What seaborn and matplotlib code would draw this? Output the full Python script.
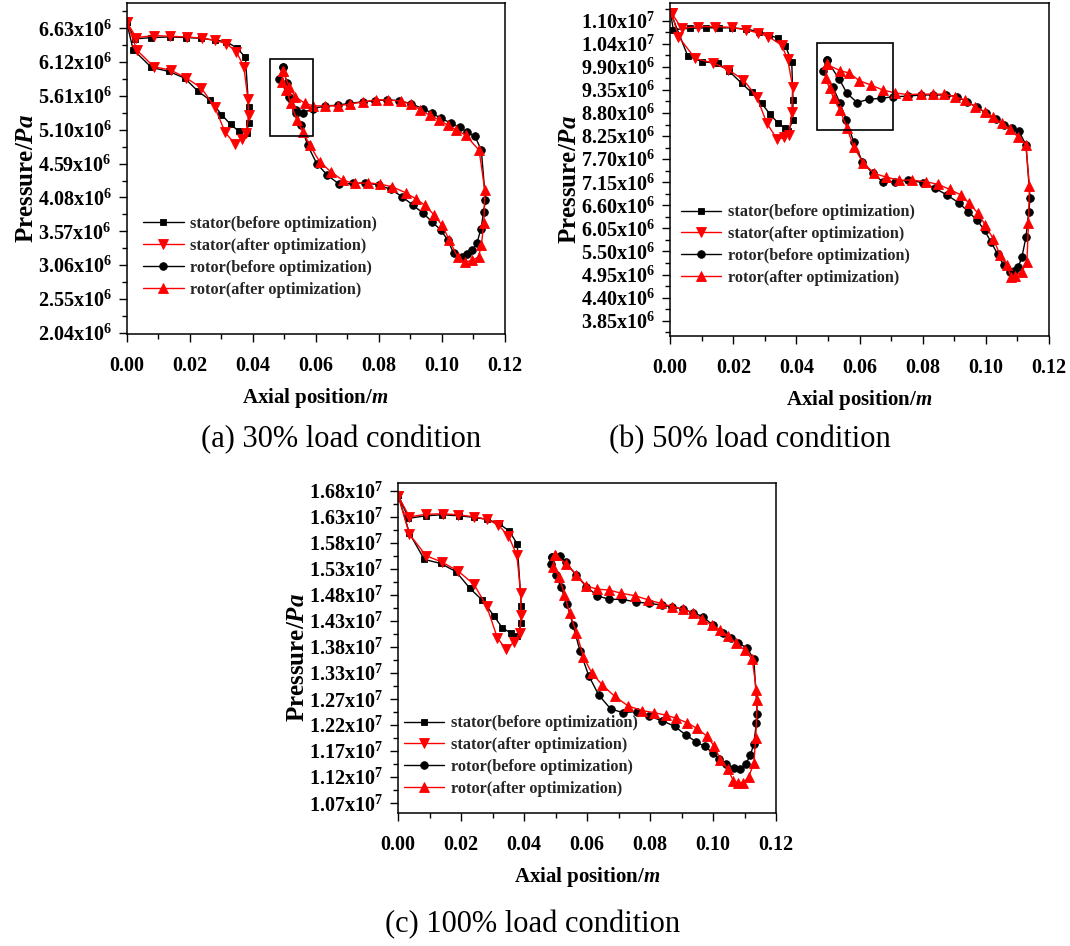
import matplotlib
matplotlib.use("Agg")
import matplotlib.pyplot as plt
import matplotlib.patches as patches
from matplotlib.ticker import FixedLocator, MultipleLocator
import seaborn as sns
import pandas as pd
import numpy as np

W, H = 1070, 946

# ---------------- data (pressure in 1e6 Pa, axial position in m) ----------------
# (a) 30% load
A_STATOR_BEFORE_X = [0.0, 0.0026, 0.0079, 0.0137, 0.0190, 0.0237, 0.0279, 0.0316, 0.0351, 0.0377, 0.0387, 0.0387,
                     0.0381, 0.0356, 0.0330, 0.0301, 0.0264, 0.0227, 0.0184, 0.0134, 0.0079, 0.0021, 0.0]
A_STATOR_BEFORE_Y = [6.73, 6.47, 6.49, 6.50, 6.49, 6.48, 6.45, 6.43, 6.33, 6.19, 5.45, 5.20,
                     5.05, 5.08, 5.18, 5.33, 5.55, 5.68, 5.88, 5.98, 6.04, 6.31, 6.73]
A_STATOR_AFTER_X = [0.0, 0.0031, 0.0087, 0.0139, 0.0192, 0.0239, 0.0279, 0.0316, 0.0348, 0.0372, 0.0385, 0.0387,
                    0.0380, 0.0366, 0.0343, 0.0313, 0.0279, 0.0237, 0.0190, 0.0140, 0.0087, 0.0033, 0.0]
A_STATOR_AFTER_Y = [6.73, 6.49, 6.52, 6.51, 6.50, 6.48, 6.45, 6.40, 6.28, 6.05, 5.56, 5.32,
                    5.05, 4.96, 4.89, 5.06, 5.45, 5.73, 5.88, 6.00, 6.05, 6.30, 6.73]
A_ROTOR_BEFORE_X = [0.0497, 0.0508, 0.0522, 0.0536, 0.0560, 0.0592, 0.0630, 0.0669, 0.0707, 0.0750, 0.0789,
                    0.0827, 0.0865, 0.0903, 0.0939, 0.0969, 0.0998, 0.1029, 0.1056, 0.1081, 0.1105, 0.1125,
                    0.1138, 0.1132, 0.1124, 0.1111, 0.1095, 0.1080, 0.1065,
                    0.1037, 0.1018, 0.0996, 0.0969, 0.0941, 0.0909, 0.0874, 0.0838, 0.0799, 0.0756, 0.0718,
                    0.0674, 0.0636, 0.0603, 0.0574, 0.0554, 0.0538, 0.0515, 0.0485, 0.0497]
A_ROTOR_BEFORE_Y = [6.05, 5.80, 5.56, 5.40, 5.36, 5.42, 5.46, 5.47, 5.50, 5.52, 5.54,
                    5.55, 5.54, 5.49, 5.42, 5.35, 5.27, 5.20, 5.14, 5.06, 5.00, 4.79,
                    4.04, 3.86, 3.61, 3.39, 3.28, 3.22, 3.18,
                    3.24, 3.44, 3.59, 3.71, 3.84, 3.96, 4.09, 4.20, 4.27, 4.30, 4.29,
                    4.28, 4.42, 4.59, 4.87, 5.17, 5.35, 5.60, 5.86, 6.05]
A_ROTOR_AFTER_X = [0.0496, 0.0516, 0.0535, 0.0565, 0.0592, 0.0630, 0.0669, 0.0710, 0.0750, 0.0791, 0.0830,
                   0.0870, 0.0903, 0.0931, 0.0961, 0.0991, 0.1018, 0.1045, 0.1075, 0.1118,
                   0.1136, 0.1133, 0.1125, 0.1116, 0.1094, 0.1072,
                   0.1050, 0.1023, 0.1001, 0.0976, 0.0947, 0.0917, 0.0885, 0.0843, 0.0805, 0.0767, 0.0723,
                   0.0685, 0.0647, 0.0612, 0.0581, 0.0559, 0.0540, 0.0521, 0.0507, 0.0492, 0.0496]
A_ROTOR_AFTER_Y = [5.98, 5.75, 5.60, 5.50, 5.46, 5.46, 5.46, 5.49, 5.52, 5.55, 5.55,
                   5.53, 5.49, 5.40, 5.32, 5.25, 5.17, 5.10, 5.02, 4.79,
                   4.19, 3.70, 3.36, 3.18, 3.13, 3.10,
                   3.18, 3.44, 3.66, 3.81, 3.96, 4.06, 4.15, 4.24, 4.28, 4.30, 4.29,
                   4.34, 4.47, 4.62, 4.87, 5.07, 5.25, 5.50, 5.70, 5.82, 5.98]

# (b) 50% load
B_STATOR_BEFORE_X = [0.0, 0.0010, 0.0063, 0.0112, 0.0155, 0.0197, 0.0241, 0.0281, 0.0314, 0.0341, 0.0365, 0.0385,
                     0.0389, 0.0388, 0.0374, 0.0364, 0.0342, 0.0316, 0.0290, 0.0258, 0.0226, 0.0186, 0.0150,
                     0.0101, 0.0055, 0.0]
B_STATOR_BEFORE_Y = [11.22, 10.79, 10.82, 10.83, 10.83, 10.83, 10.80, 10.74, 10.66, 10.58, 10.40, 10.02,
                     9.10, 8.63, 8.36, 8.44, 8.56, 8.77, 9.03, 9.29, 9.51, 9.80, 9.99,
                     10.02, 10.17, 11.22]
B_STATOR_AFTER_X = [0.0005, 0.0036, 0.0089, 0.0142, 0.0195, 0.0240, 0.0279, 0.0311, 0.0353, 0.0372, 0.0388,
                    0.0385, 0.0377, 0.0361, 0.0339, 0.0306, 0.0274, 0.0232, 0.0184, 0.0137, 0.0079, 0.0026, 0.0005]
B_STATOR_AFTER_Y = [11.18, 10.82, 10.86, 10.86, 10.84, 10.78, 10.71, 10.62, 10.42, 10.08, 9.43,
                    8.83, 8.28, 8.22, 8.17, 8.56, 9.19, 9.59, 9.83, 9.99, 10.10, 10.62, 11.18]
B_ROTOR_BEFORE_X = [0.0496, 0.0536, 0.0560, 0.0592, 0.0630, 0.0669, 0.0707, 0.0753, 0.0793, 0.0833, 0.0875,
                    0.0908, 0.0939, 0.0972, 0.1001, 0.1031, 0.1059, 0.1083, 0.1105, 0.1127,
                    0.1140, 0.1136, 0.1127, 0.1114, 0.1103, 0.1089, 0.1075,
                    0.1056, 0.1037, 0.1016, 0.0996, 0.0972, 0.0944, 0.0914, 0.0876, 0.0838, 0.0800, 0.0754,
                    0.0712, 0.0674, 0.0641, 0.0609, 0.0581, 0.0558, 0.0538, 0.0516, 0.0483, 0.0496]
B_ROTOR_BEFORE_Y = [10.06, 9.60, 9.27, 9.05, 9.13, 9.15, 9.19, 9.20, 9.23, 9.23, 9.23,
                    9.19, 9.07, 8.94, 8.79, 8.65, 8.52, 8.44, 8.36, 8.04,
                    6.77, 6.45, 5.84, 5.36, 5.14, 5.04, 5.02,
                    5.18, 5.44, 5.73, 6.00, 6.25, 6.45, 6.66, 6.85, 7.01, 7.14, 7.20,
                    7.16, 7.16, 7.36, 7.64, 8.12, 8.63, 9.03, 9.41, 9.79, 10.06]
B_ROTOR_AFTER_X = [0.0496, 0.0538, 0.0568, 0.0599, 0.0635, 0.0673, 0.0712, 0.0751, 0.0793, 0.0831, 0.0867,
                   0.0902, 0.0934, 0.0966, 0.0997, 0.1022, 0.1050, 0.1077, 0.1103, 0.1127,
                   0.1138, 0.1135, 0.1130, 0.1114, 0.1092, 0.1079,
                   0.1067, 0.1045, 0.1024, 0.0998, 0.0975, 0.0947, 0.0920, 0.0885, 0.0849, 0.0811, 0.0767,
                   0.0725, 0.0685, 0.0647, 0.0612, 0.0581, 0.0560, 0.0538, 0.0518, 0.0505, 0.0492, 0.0496]
B_ROTOR_AFTER_Y = [9.96, 9.81, 9.75, 9.57, 9.47, 9.35, 9.28, 9.24, 9.25, 9.25, 9.25,
                   9.19, 9.11, 8.95, 8.83, 8.71, 8.55, 8.41, 8.22, 8.04,
                   7.05, 6.17, 5.26, 5.02, 4.92, 4.90,
                   5.18, 5.42, 5.79, 6.13, 6.41, 6.65, 6.85, 6.98, 7.10, 7.16, 7.20,
                   7.20, 7.27, 7.36, 7.60, 8.00, 8.44, 8.87, 9.15, 9.39, 9.63, 9.96]

# (c) 100% load
C_STATOR_BEFORE_X = [0.0, 0.0033, 0.0087, 0.0140, 0.0193, 0.0241, 0.0282, 0.0320, 0.0353, 0.0378, 0.0391, 0.0391,
                     0.0378, 0.0359, 0.0331, 0.0304, 0.0266, 0.0227, 0.0184, 0.0135, 0.0083, 0.0036, 0.0]
C_STATOR_BEFORE_Y = [16.72, 16.26, 16.31, 16.33, 16.31, 16.28, 16.24, 16.16, 16.01, 15.76, 14.55, 14.21,
                     13.97, 14.02, 14.12, 14.36, 14.67, 14.90, 15.22, 15.38, 15.46, 15.97, 16.72]
C_STATOR_AFTER_X = [0.0, 0.0036, 0.0089, 0.0142, 0.0191, 0.0241, 0.0283, 0.0318, 0.0350, 0.0377, 0.0389, 0.0390,
                    0.0386, 0.0369, 0.0342, 0.0315, 0.0281, 0.0241, 0.0191, 0.0138, 0.0089, 0.0036, 0.0]
C_STATOR_AFTER_Y = [16.70, 16.29, 16.34, 16.35, 16.33, 16.29, 16.24, 16.13, 15.92, 15.54, 14.80, 14.38,
                    14.03, 13.85, 13.71, 13.93, 14.55, 14.97, 15.23, 15.41, 15.53, 15.95, 16.70]
C_ROTOR_BEFORE_X = [0.0490, 0.0515, 0.0533, 0.0564, 0.0597, 0.0632, 0.0670, 0.0711, 0.0754, 0.0796, 0.0837,
                    0.0870, 0.0903, 0.0936, 0.0968, 0.0998, 0.1031, 0.1056, 0.1080, 0.1107, 0.1129,
                    0.1140, 0.1137, 0.1129, 0.1118, 0.1104, 0.1085, 0.1067,
                    0.1042, 0.1020, 0.0998, 0.0973, 0.0946, 0.0914, 0.0878, 0.0839, 0.0796, 0.0758, 0.0714,
                    0.0675, 0.0637, 0.0605, 0.0577, 0.0555, 0.0536, 0.0517, 0.0500, 0.0484, 0.0490]
C_ROTOR_BEFORE_Y = [15.50, 15.52, 15.40, 15.16, 14.93, 14.75, 14.68, 14.68, 14.63, 14.60, 14.57,
                    14.53, 14.49, 14.42, 14.34, 14.18, 14.03, 13.92, 13.83, 13.73, 13.51,
                    12.44, 12.26, 11.86, 11.64, 11.47, 11.36, 11.38,
                    11.47, 11.56, 11.69, 11.81, 11.90, 12.03, 12.20, 12.31, 12.40, 12.49, 12.47,
                    12.54, 12.81, 13.19, 13.68, 14.18, 14.59, 14.92, 15.16, 15.37, 15.50]
C_ROTOR_AFTER_X = [0.0499, 0.0533, 0.0566, 0.0597, 0.0632, 0.0670, 0.0708, 0.0752, 0.0794, 0.0834, 0.0870,
                   0.0905, 0.0936, 0.0965, 0.0995, 0.1023, 0.1047, 0.1074, 0.1100, 0.1124,
                   0.1137, 0.1140, 0.1135, 0.1129, 0.1113, 0.1096, 0.1080, 0.1064,
                   0.1047, 0.1023, 0.1004, 0.0980, 0.0949, 0.0918, 0.0883, 0.0850, 0.0812, 0.0774, 0.0730,
                   0.0687, 0.0648, 0.0615, 0.0588, 0.0566, 0.0544, 0.0528, 0.0512, 0.0492, 0.0499]
C_ROTOR_AFTER_Y = [15.55, 15.37, 15.16, 14.94, 14.88, 14.86, 14.80, 14.75, 14.67, 14.60, 14.54,
                   14.49, 14.41, 14.29, 14.18, 14.08, 13.96, 13.82, 13.69, 13.51,
                   12.91, 12.72, 11.97, 11.48, 11.22, 11.10, 11.09, 11.14,
                   11.36, 11.55, 11.81, 12.01, 12.16, 12.27, 12.36, 12.42, 12.47, 12.51, 12.60,
                   12.79, 13.01, 13.24, 13.56, 14.03, 14.42, 14.77, 15.11, 15.32, 15.55]

SERIES_NAMES = ["stator(before optimization)", "stator(after optimization)",
                "rotor(before optimization)", "rotor(after optimization)"]

# y tick positions (1e6 Pa) and their printed mantissa / exponent
A_YTICKS = [2.04, 2.55, 3.06, 3.57, 4.08, 4.59, 5.10, 5.61, 6.12, 6.63]
A_YMANT = ["2.04", "2.55", "3.06", "3.57", "4.08", "4.59", "5.10", "5.61", "6.12", "6.63"]
A_YEXP = [6] * 10
B_YTICKS = [3.85, 4.40, 4.95, 5.50, 6.05, 6.60, 7.15, 7.70, 8.25, 8.80, 9.35, 9.90, 10.45, 11.00]
B_YMANT = ["3.85", "4.40", "4.95", "5.50", "6.05", "6.60", "7.15", "7.70", "8.25", "8.80", "9.35", "9.90",
           "1.04", "1.10"]
B_YEXP = [6] * 12 + [7, 7]
C_YTICKS = [10.70, 11.21, 11.72, 12.23, 12.73, 13.24, 13.75, 14.26, 14.77, 15.28, 15.78, 16.29, 16.80]
C_YMANT = ["1.07", "1.12", "1.17", "1.22", "1.27", "1.33", "1.38", "1.43", "1.48", "1.53", "1.58", "1.63", "1.68"]
C_YEXP = [7] * 13

X_TICKS = [0.00, 0.02, 0.04, 0.06, 0.08, 0.10, 0.12]

# ---------------- style ----------------
sns.set_theme(style="white")
plt.rcParams["font.family"] = ["Liberation Serif", "DejaVu Serif"]
plt.rcParams["mathtext.fontset"] = "custom"
plt.rcParams["mathtext.rm"] = "Liberation Serif:bold"
plt.rcParams["mathtext.it"] = "Liberation Serif:italic:bold"
plt.rcParams["mathtext.default"] = "regular"

STYLES = [("black", "s", 5.0), ("red", "v", 6.5), ("black", "o", 5.5), ("red", "^", 6.5)]


def px_axes(fig, left, top, right, bottom):
    return fig.add_axes([left / W, 1 - bottom / H, (right - left) / W, (bottom - top) / H])


def draw_panel(ax, series, yticks, ymant, yexp, ylim, legend_xy, rect=None):
    for name, (xs, ys), (color, marker, ms) in zip(SERIES_NAMES, series, STYLES):
        df = pd.DataFrame({"x": xs, "y": np.array(ys) * 1e6})
        sns.lineplot(data=df, x="x", y="y", sort=False, estimator=None, ax=ax, color=color,
                     marker=marker, markersize=ms, markeredgecolor=color, markeredgewidth=0.6,
                     linewidth=1.0, label=name)

    ax.set_xlim(0, 0.12)
    ax.set_ylim(ylim[0] * 1e6, ylim[1] * 1e6)

    ax.set_xticks(X_TICKS)
    ax.set_xticklabels([f"{v:.2f}" for v in X_TICKS])
    ax.xaxis.set_minor_locator(MultipleLocator(0.01))

    yt = np.array(yticks) * 1e6
    ax.set_yticks(yt)
    ax.set_yticklabels([f"{m}x$10^{{{e}}}$" for m, e in zip(ymant, yexp)])
    step = yt[1] - yt[0]
    minors = np.concatenate([[yt[0] - step / 2], yt + step / 2])
    minors = minors[(minors > ylim[0] * 1e6) & (minors < ylim[1] * 1e6)]
    ax.yaxis.set_minor_locator(FixedLocator(minors))

    for s in ax.spines.values():
        s.set_color("black")
        s.set_linewidth(1.1)
    ax.tick_params(which="both", direction="out", color="black", width=1.0,
                   bottom=True, left=True, top=False, right=False)
    ax.tick_params(which="major", length=5.5, labelsize=14.5, labelcolor="black")
    ax.tick_params(which="minor", length=3.5)
    ax.tick_params(axis="x", which="major", pad=10)
    ax.tick_params(axis="y", which="major", pad=5)
    for lab in ax.get_xticklabels() + ax.get_yticklabels():
        lab.set_fontweight("bold")

    ax.set_xlabel("Axial position/$\\it{m}$", fontsize=15, fontweight="bold", color="black")
    ax.set_ylabel("Pressure/$\\it{Pa}$", fontsize=18, fontweight="bold", color="black")
    ax.xaxis.set_label_coords(0.5, -0.155)
    ax.yaxis.set_label_coords(-0.235, 0.47)

    if rect is not None:
        x0, y0, w, h = rect
        ax.add_patch(patches.Rectangle((x0, y0 * 1e6), w, h * 1e6, fill=False,
                                       edgecolor="black", linewidth=1.2, zorder=5))

    fig = ax.figure
    ax.legend(loc="upper left", bbox_to_anchor=(legend_xy[0] / W, 1 - legend_xy[1] / H),
              bbox_transform=fig.transFigure, frameon=False, borderpad=0, borderaxespad=0,
              handlelength=2.5, handletextpad=0.4, labelspacing=0.36,
              prop={"family": "Liberation Serif", "weight": "bold", "size": 11.7})


fig = plt.figure(figsize=(W / 100, H / 100), dpi=100)
fig.patch.set_facecolor("white")

ax_a = px_axes(fig, 126.5, 3.3, 505.0, 334.3)
draw_panel(ax_a,
           [(A_STATOR_BEFORE_X, A_STATOR_BEFORE_Y), (A_STATOR_AFTER_X, A_STATOR_AFTER_Y),
            (A_ROTOR_BEFORE_X, A_ROTOR_BEFORE_Y), (A_ROTOR_AFTER_X, A_ROTOR_AFTER_Y)],
           A_YTICKS, A_YMANT, A_YEXP, (2.016, 7.007), (142.9, 216.0),
           rect=(0.0454, 5.007, 0.0137, 1.165))

ax_b = px_axes(fig, 670.2, 3.3, 1049.0, 336.0)
draw_panel(ax_b,
           [(B_STATOR_BEFORE_X, B_STATOR_BEFORE_Y), (B_STATOR_AFTER_X, B_STATOR_AFTER_Y),
            (B_ROTOR_BEFORE_X, B_ROTOR_BEFORE_Y), (B_ROTOR_AFTER_X, B_ROTOR_AFTER_Y)],
           B_YTICKS, B_YMANT, B_YEXP, (3.485, 11.415), (680.5, 204.3),
           rect=(0.0464, 8.395, 0.0241, 2.081))

ax_c = px_axes(fig, 398.1, 482.7, 776.2, 813.3)
draw_panel(ax_c,
           [(C_STATOR_BEFORE_X, C_STATOR_BEFORE_Y), (C_STATOR_AFTER_X, C_STATOR_AFTER_Y),
            (C_ROTOR_BEFORE_X, C_ROTOR_BEFORE_Y), (C_ROTOR_AFTER_X, C_ROTOR_AFTER_Y)],
           C_YTICKS, C_YMANT, C_YEXP, (10.505, 16.956), (403.6, 715.3))

cap = {"family": "Liberation Serif", "size": 22, "color": "black"}
fig.text(341.5 / W, 1 - 440 / H, "(a) 30% load condition", ha="center", va="center", **cap)
fig.text(749.5 / W, 1 - 440 / H, "(b) 50% load condition", ha="center", va="center", **cap)
fig.text(532.5 / W, 1 - 925 / H, "(c) 100% load condition", ha="center", va="center", **cap)

fig.savefig("out.png", dpi=100, facecolor="white")
